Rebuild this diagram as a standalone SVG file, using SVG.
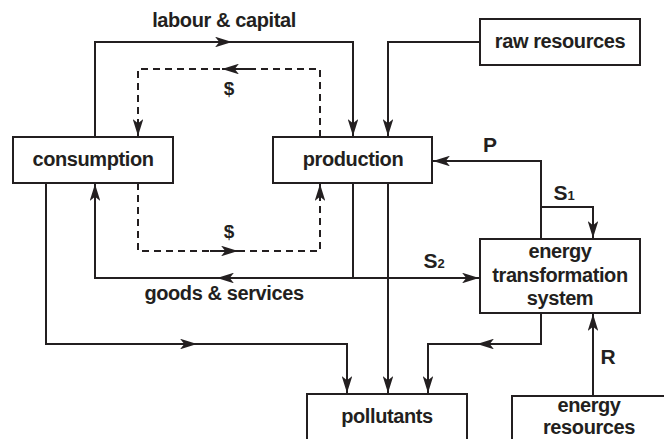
<svg xmlns="http://www.w3.org/2000/svg" width="664" height="439" viewBox="0 0 664 439">
<style>
.box{fill:#fff;stroke:#231f20;stroke-width:2}
.t{font-family:"Liberation Sans",Arial,sans-serif;font-weight:bold;font-size:20px;letter-spacing:-0.4px;fill:#231f20;text-anchor:middle}
.big{font-size:21px;letter-spacing:0}
.sub{font-size:13px}
.dol{font-size:19px;letter-spacing:0}
.ln{fill:none;stroke:#231f20;stroke-width:2}
.d{stroke-dasharray:7 5}
</style>
<defs>
<marker id="ah" markerUnits="userSpaceOnUse" viewBox="0 0 16 10" refX="16" refY="5" markerWidth="17" markerHeight="10.6" orient="auto">
<path d="M0,0 L16,5 L0,10 L4,5 z" fill="#231f20"/>
</marker>
</defs>
<rect width="664" height="439" fill="#fff"/>
<g id="connectors">
<path class="ln" d="M95,137 V42 H353 V136" marker-end="url(#ah)"/>
<path class="ln" d="M200,42 H232" marker-end="url(#ah)"/>
<path class="ln" d="M480,42 H388 V136" marker-end="url(#ah)"/>
<path class="ln d" d="M320,137 V69 H138 V136" marker-end="url(#ah)"/>
<path class="ln" d="M250,69 H222" marker-end="url(#ah)"/>
<path class="ln d" d="M138,183 V251 H320 V184" marker-end="url(#ah)"/>
<path class="ln" d="M210,251 H238" marker-end="url(#ah)"/>
<path class="ln" d="M353,183 V278 H95 V184" marker-end="url(#ah)"/>
<path class="ln" d="M245,278 H217" marker-end="url(#ah)"/>
<path class="ln" d="M353,278 H479" marker-end="url(#ah)"/>
<path class="ln" d="M388,183 V393" marker-end="url(#ah)"/>
<path class="ln" d="M46,183 V344 H347 V393" marker-end="url(#ah)"/>
<path class="ln" d="M170,344 H197" marker-end="url(#ah)"/>
<path class="ln" d="M541,313 V344 H428 V393" marker-end="url(#ah)"/>
<path class="ln" d="M505,344 H477" marker-end="url(#ah)"/>
<path class="ln" d="M541,239 V161 H433" marker-end="url(#ah)"/>
<path class="ln" d="M541,207 H593 V238" marker-end="url(#ah)"/>
<path class="ln" d="M593,396 V314" marker-end="url(#ah)"/>
</g>
<g id="labels">
<text class="t" x="224" y="27">labour &amp; capital</text>
<text class="t dol" x="229" y="95">$</text>
<text class="t dol" x="229" y="238">$</text>
<text class="t" x="224" y="300">goods &amp; services</text>
<text class="t big" x="490" y="152">P</text>
<text class="t big" x="564" y="200">S<tspan class="sub">1</tspan></text>
<text class="t big" x="434" y="268">S<tspan class="sub">2</tspan></text>
<text class="t big" x="608" y="364">R</text>
</g>
<g id="consumption">
<rect class="box" x="13" y="137" width="160" height="46"/>
<text class="t" x="93" y="166">consumption</text>
</g>
<g id="production">
<rect class="box" x="273" y="137" width="159" height="46"/>
<text class="t" x="353" y="166">production</text>
</g>
<g id="raw-resources">
<rect class="box" x="480" y="19" width="160" height="46"/>
<text class="t" x="560" y="48">raw resources</text>
</g>
<g id="energy-transformation-system">
<rect class="box" x="480" y="239" width="160" height="74"/>
<text class="t" x="560" y="258">energy</text>
<text class="t" x="560" y="282">transformation</text>
<text class="t" x="560" y="305">system</text>
</g>
<g id="pollutants">
<rect class="box" x="307" y="394" width="160" height="60"/>
<text class="t" x="387" y="423">pollutants</text>
</g>
<g id="energy-resources">
<rect class="box" x="512" y="396" width="160" height="60"/>
<text class="t" x="589" y="412">energy</text>
<text class="t" x="589" y="434">resources</text>
</g>
</svg>
